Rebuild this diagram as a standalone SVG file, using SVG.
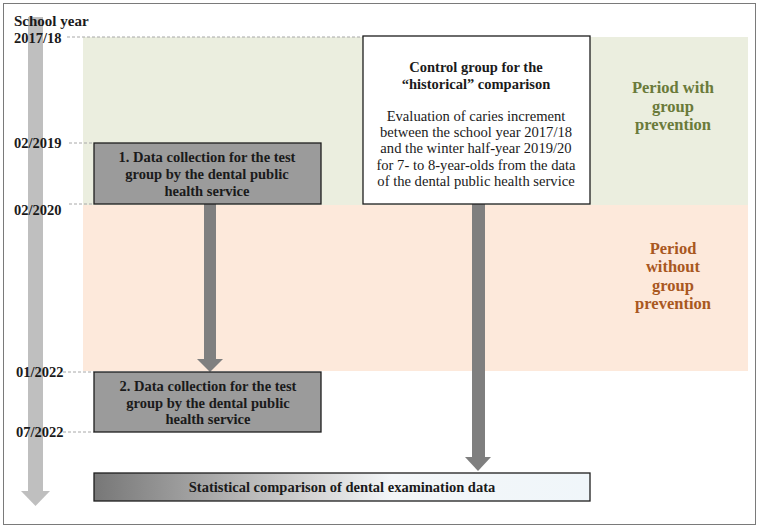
<svg xmlns="http://www.w3.org/2000/svg" width="760" height="528" viewBox="0 0 760 528">
<defs>
<style>
text{font-family:"Liberation Serif","DejaVu Serif",serif;font-size:14.5px;fill:#1a1a1a}
.b{font-weight:bold}
.c{text-anchor:middle}
.lab{font-size:14.5px;font-weight:bold}
.body{font-size:14.6px}
.dash{stroke:#a8a8a8;stroke-width:1;stroke-dasharray:3,2;fill:none}
.box{stroke:#1e1e1e;stroke-width:1.3}
.arr{fill:#7f7f7f}
.green{fill:#6a7a3a;font-weight:bold;font-size:16.5px}
.orange{fill:#a9581f;font-weight:bold;font-size:16.5px}
</style>
<linearGradient id="grad" x1="0" y1="0" x2="1" y2="0">
<stop offset="0" stop-color="#777777"/>
<stop offset="0.45" stop-color="#d6d6d6"/>
<stop offset="0.6" stop-color="#f3f6f8"/>
<stop offset="1" stop-color="#f0f6fa"/>
</linearGradient>
</defs>
<rect x="3.5" y="3.5" width="752" height="521" fill="#ffffff" stroke="#7a7a7a" stroke-width="1"/>
<g id="periods">
<rect x="83" y="37" width="665" height="168" fill="#ebeedf"/>
<rect x="83" y="205" width="665" height="166" fill="#fde9db"/>
<text class="green c" x="673" y="93">Period with</text>
<text class="green c" x="673" y="112">group</text>
<text class="green c" x="673" y="130">prevention</text>
<text class="orange c" x="673" y="254">Period</text>
<text class="orange c" x="673" y="272">without</text>
<text class="orange c" x="673" y="291">group</text>
<text class="orange c" x="673" y="309">prevention</text>
</g>
<g id="timeline">
<rect x="28" y="17" width="15" height="474" fill="#bfbfbf"/>
<polygon points="21,491 50,491 35.5,506" fill="#bfbfbf"/>
<text class="b" x="14" y="26" style="font-size:15px">School year</text>
<text class="lab" x="14" y="43">2017/18</text>
<text class="lab" x="14" y="148">02/2019</text>
<text class="lab" x="14" y="215">02/2020</text>
<text class="lab" x="16" y="377">01/2022</text>
<text class="lab" x="16" y="437">07/2022</text>
<line class="dash" x1="67" y1="37" x2="363" y2="37"/>
<line class="dash" x1="69" y1="143" x2="94" y2="143"/>
<line class="dash" x1="69" y1="204" x2="94" y2="204"/>
<line class="dash" x1="63" y1="372" x2="94" y2="372"/>
<line class="dash" x1="63" y1="432" x2="94" y2="432"/>
</g>
<g id="connectors">
<rect class="arr" x="204" y="204" width="12" height="156"/>
<polygon class="arr" points="197,359 223,359 210,372"/>
<rect class="arr" x="472" y="204" width="13" height="254"/>
<polygon class="arr" points="465,457 491,457 478,471"/>
</g>
<g id="collection1">
<rect class="box" x="94" y="143" width="227" height="61" fill="#9b9b9b"/>
<text class="b c" x="207" y="162">1. Data collection for the test</text>
<text class="b c" x="207" y="179">group by the dental public</text>
<text class="b c" x="207" y="196">health service</text>
</g>
<g id="collection2">
<rect class="box" x="94" y="372" width="227" height="60" fill="#9b9b9b"/>
<text class="b c" x="208" y="391">2. Data collection for the test</text>
<text class="b c" x="208" y="408">group by the dental public</text>
<text class="b c" x="208" y="424">health service</text>
</g>
<g id="control">
<rect class="box" x="363" y="36" width="227" height="168" fill="#ffffff"/>
<text class="b c" x="476" y="72">Control group for the</text>
<text class="b c" x="476" y="89">“historical” comparison</text>
<text class="body c" x="476" y="121">Evaluation of caries increment</text>
<text class="body c" x="476" y="137">between the school year 2017/18</text>
<text class="body c" x="476" y="153">and the winter half-year 2019/20</text>
<text class="body c" x="476" y="170">for 7- to 8-year-olds from the data</text>
<text class="body c" x="476" y="186">of the dental public health service</text>
</g>
<g id="statistics">
<rect class="box" x="94" y="473" width="496" height="28" fill="url(#grad)"/>
<text class="b c" x="342" y="492">Statistical comparison of dental examination data</text>
</g>
</svg>
